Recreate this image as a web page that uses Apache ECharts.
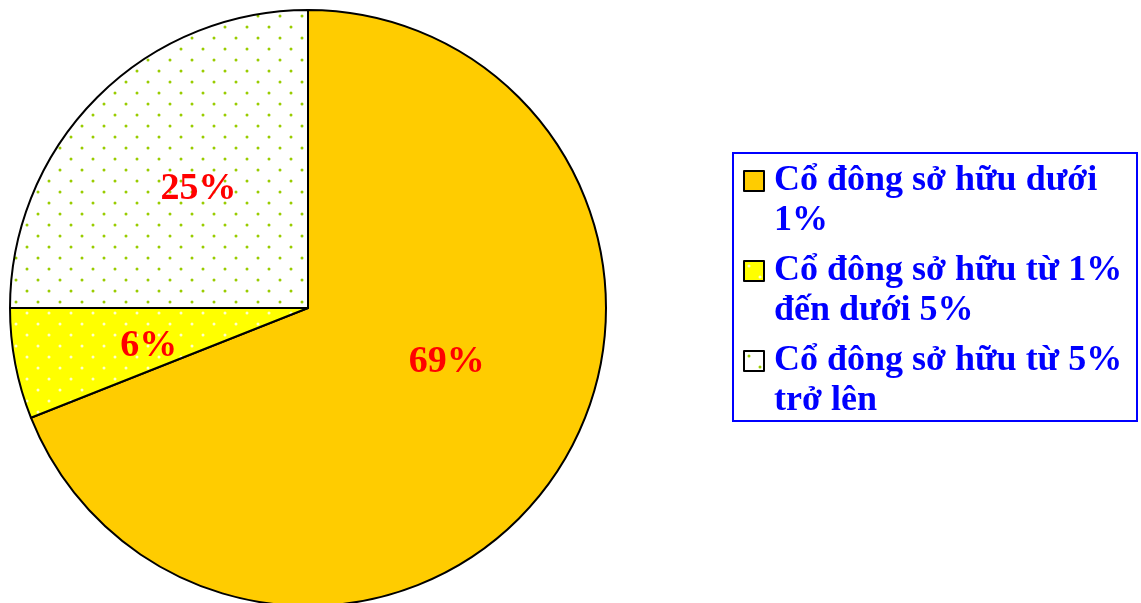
<!DOCTYPE html>
<html>
<head>
<meta charset="utf-8">
<script src="https://cdn.jsdelivr.net/npm/echarts@6/dist/echarts.min.js"></script>
<style>
html,body{margin:0;padding:0;background:#fff;}
#chart{width:1141px;height:603px;}
</style>
</head>
<body>
<div id="chart"></div>
<script>
// ---- data ----
const categories = ['Cổ đông sở hữu dưới 1%', 'Cổ đông sở hữu từ 1% đến dưới 5%', 'Cổ đông sở hữu từ 5% trở lên'];
const legendLines = ['Cổ đông sở hữu dưới\n1%', 'Cổ đông sở hữu từ 1%\nđến dưới 5%', 'Cổ đông sở hữu từ 5%\ntrở lên'];
const values = [69, 6, 25];

// ---- styles ----
function dotPattern(bg, dot) {
  const c = document.createElement('canvas');
  c.width = 22; c.height = 22;
  const g = c.getContext('2d');
  g.fillStyle = bg; g.fillRect(0, 0, 22, 22);
  g.fillStyle = dot;
  g.beginPath(); g.arc(5, 5, 1.5, 0, Math.PI * 2); g.fill();
  g.beginPath(); g.arc(16, 16, 1.5, 0, Math.PI * 2); g.fill();
  return c;
}
const fills = [
  '#FFCC00',
  { image: dotPattern('#FFFF00', '#FFFFCC'), repeat: 'repeat' },
  { image: dotPattern('#FFFFFF', '#99CC00'), repeat: 'repeat' }
];
const labelOffsets = [[13, -31], [-10, 10], [-2, -11]];

const chart = echarts.init(document.getElementById('chart'), null, { renderer: 'canvas' });
chart.setOption({
  animation: false,
  backgroundColor: '#ffffff',
  graphic: [{
    type: 'rect',
    silent: true,
    shape: { x: 733, y: 153, width: 404, height: 268 },
    style: { fill: 'none', stroke: '#0000FF', lineWidth: 2 }
  }],
  legend: {
    orient: 'vertical',
    left: 732,
    top: 118,
    selectedMode: false,
    icon: 'rect',
    itemWidth: 20,
    itemHeight: 20,
    itemGap: -36,
    padding: [0, 0, 0, 11],
    data: categories,
    formatter: function (name) { return '\n' + legendLines[categories.indexOf(name)]; },
    textStyle: {
      fontFamily: 'Liberation Serif',
      fontWeight: 'bold',
      fontSize: 36,
      lineHeight: 40,
      color: '#0000FF',
      padding: [6, 0, 0, 5]
    }
  },
  series: [{
    type: 'pie',
    center: [308, 308],
    radius: [0, 298],
    startAngle: 90,
    clockwise: true,
    emphasis: { disabled: true },
    silent: true,
    itemStyle: { borderColor: '#000000', borderWidth: 2 },
    label: {
      show: true,
      position: 'inside',
      formatter: '{c}%',
      fontFamily: 'Liberation Serif',
      fontWeight: 'bold',
      fontSize: 38,
      color: '#FF0000'
    },
    labelLine: { show: false },
    data: categories.map((n, i) => ({
      name: n,
      value: values[i],
      itemStyle: { color: fills[i] },
      label: { offset: labelOffsets[i] }
    }))
  }]
});
</script>
</body>
</html>
